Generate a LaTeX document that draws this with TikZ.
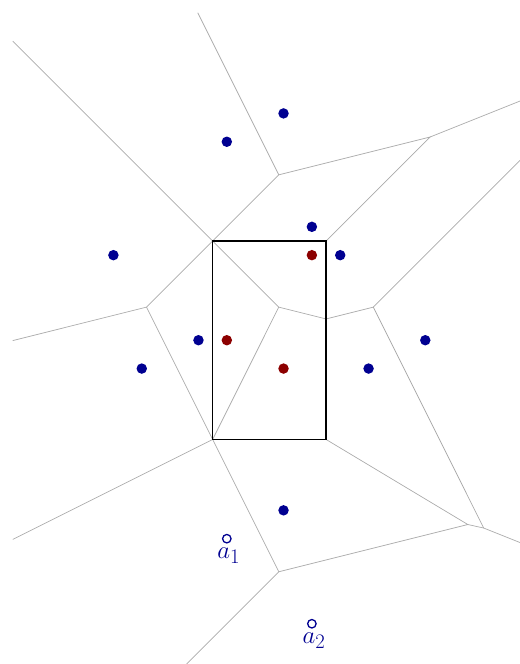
\documentclass[tikz,border=0pt]{standalone}
\usepackage{amsmath,amssymb}
\usepackage{xcolor}
\usepackage{tikz}
\usetikzlibrary{positioning}
\definecolor{osite}{RGB}{0,0,145}
\definecolor{ored}{RGB}{140,0,0}
\definecolor{oedge}{RGB}{170,170,170}

\begin{document}
\begin{tikzpicture}[
  edge/.style={draw=oedge,line width=0.7pt},
  frame/.style={draw=black,line width=1.4pt},
  site/.style={circle,fill=osite,inner sep=0pt,minimum size=10.5pt},
  redsite/.style={circle,fill=ored,inner sep=0pt,minimum size=10.5pt},
  opensite/.style={circle,draw=osite,fill=white,line width=1.3pt,
                   inner sep=0pt,minimum size=8.5pt},
  lbl/.style={font=\Huge,text=osite,inner sep=1pt}
]
\useasboundingbox (0,0) rectangle (18.34,-23.42);

\coordinate (tl) at (7.5,-8.5);
\coordinate (tr) at (11.5,-8.5);
\coordinate (bl) at (7.5,-15.5);
\coordinate (br) at (11.5,-15.5);
\coordinate (v2) at (9.833,-6.167);
\coordinate (v3) at (15.167,-4.833);
\coordinate (v4) at (13.167,-10.833);
\coordinate (v5) at (17.0625,-18.625);
\coordinate (v6) at (16.5,-18.5);
\coordinate (v7) at (9.833,-20.167);
\coordinate (v8) at (5.167,-10.833);
\coordinate (mid) at (9.833,-10.833);
\coordinate (rside) at (11.5,-11.25);

\coordinate (endnw) at (0.45,-1.45);
\coordinate (endn) at (6.975,-0.45);
\coordinate (endne) at (18.34,-3.564);
\coordinate (ende) at (18.34,-5.66);
\coordinate (endse) at (18.34,-19.136);
\coordinate (ends) at (6.58,-23.42);
\coordinate (endw) at (0.45,-12.0125);
\coordinate (endsw) at (0.45,-19.025);

\draw[edge] (endnw) -- (tl) -- (v2) -- (v3) -- (tr);
\draw[edge] (endn) -- (v2);
\draw[edge] (v3) -- (endne);
\draw[edge] (tl) -- (v8) -- (bl) -- (v7) -- (v6) -- (br);
\draw[edge] (v8) -- (endw);
\draw[edge] (bl) -- (endsw);
\draw[edge] (v7) -- (ends);
\draw[edge] (v6) -- (v5) -- (endse);
\draw[edge] (v5) -- (v4) -- (rside);
\draw[edge] (v4) -- (ende);
\draw[edge] (tl) -- (mid) -- (rside);
\draw[edge] (mid) -- (bl);

\draw[frame] (tl) rectangle (br);

\node[site] (s1) at (10,-4) {};
\node[site] (s2) at (8,-5) {};
\node[site] (s3) at (11,-8) {};
\node[site] (s4) at (4,-9) {};
\node[site] (s5) at (12,-9) {};
\node[site] (s6) at (7,-12) {};
\node[site] (s7) at (15,-12) {};
\node[site] (s8) at (5,-13) {};
\node[site] (s9) at (13,-13) {};
\node[site] (s10) at (10,-18) {};
\node[redsite] (r1) at (11,-9) {};
\node[redsite] (r2) at (8,-12) {};
\node[redsite] (r3) at (10,-13) {};

\node[opensite] (a1) at (8,-19) {};
\node[opensite] (a2) at (11,-22) {};
\node[lbl,below=3pt of a1,xshift=2pt] (a1lbl) {$a_1$};
\node[lbl,below=3pt of a2,xshift=2pt] (a2lbl) {$a_2$};
\end{tikzpicture}
\end{document}
